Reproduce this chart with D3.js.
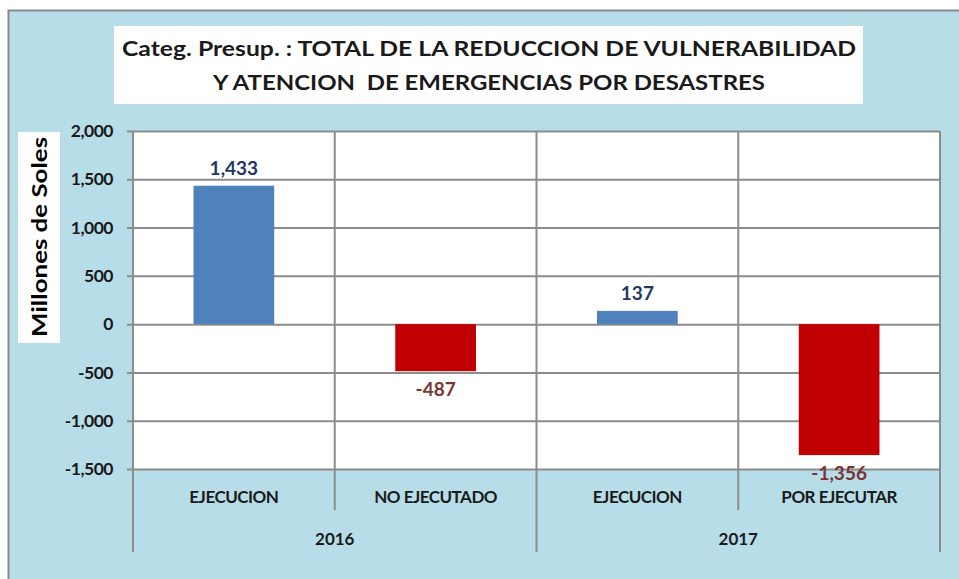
<!DOCTYPE html>
<html>
<head>
<meta charset="utf-8">
<script src="https://cdn.jsdelivr.net/npm/d3@7"></script>
<style>
  body { margin: 0; background: #fff; }
  svg { display: block; }
  text { font-family: Lato, "Open Sans", sans-serif; }
</style>
</head>
<body>
<svg id="chart" width="959" height="579"></svg>
<script>
// datos del grafico
var categories = ["EJECUCION", "NO EJECUTADO", "EJECUCION", "POR EJECUTAR"];
var years = ["2016", "2017"];
var yearOfCategory = [0, 0, 1, 1];
var values = [1433, -487, 137, -1356];
var yTicks = [-1500, -1000, -500, 0, 500, 1000, 1500, 2000];
var titleLines = ["Categ. Presup. : TOTAL DE LA REDUCCION DE VULNERABILIDAD",
                  "Y ATENCION  DE EMERGENCIAS POR DESASTRES"];
var yTitle = "Millones de Soles";

var width = 959;
var height = 579;
var plotLeft = 133, plotRight = 940, plotTop = 131, plotBottom = 469;
var gridColor = "#8c8c8c";

var svg = d3.select("#chart");
// guion simple como en Excel
var fmt = d3.formatLocale({decimal: ".", thousands: ",", grouping: [3], currency: ["", ""], minus: "-"}).format(",");

// fondo
svg.append("rect")
    .attr("x", 0).attr("y", 0)
    .attr("width", width).attr("height", height)
    .attr("fill", "#ffffff");
svg.append("rect")
    .attr("x", 8.5).attr("y", 10.5)
    .attr("width", width + 10).attr("height", height + 10)
    .attr("fill", "#b7dde8")
    .attr("stroke", "#8a8a8a")
    .attr("stroke-width", 2);

// titulo
svg.append("rect")
    .attr("x", 114).attr("y", 26)
    .attr("width", 749).attr("height", 78)
    .attr("fill", "#ffffff");
var titleWidths = [734, 552];
var titleY = [56, 90];
titleLines.forEach(function(line, i) {
    svg.append("text")
        .text(line)
        .attr("x", 489)
        .attr("y", titleY[i])
        .attr("text-anchor", "middle")
        .attr("font-size", 20)
        .attr("font-weight", "bold")
        .attr("fill", "#1a1a1a")
        .attr("xml:space", "preserve")
        .attr("textLength", titleWidths[i])
        .attr("lengthAdjust", "spacingAndGlyphs");
});

// escalas
var x = d3.scaleBand()
    .domain(d3.range(categories.length))
    .range([plotLeft, plotRight])
    .padding(0);
var y = d3.scaleLinear()
    .domain([yTicks[0], yTicks[yTicks.length - 1]])
    .range([plotBottom, plotTop]);

// area de trazado
svg.append("rect")
    .attr("x", plotLeft).attr("y", plotTop)
    .attr("width", plotRight - plotLeft).attr("height", plotBottom - plotTop)
    .attr("fill", "#ffffff");

// eje y con grilla
var yAxis = svg.append("g")
    .attr("transform", "translate(" + plotLeft + ",0)")
    .call(d3.axisLeft(y)
        .tickValues(yTicks)
        .tickFormat(fmt)
        .tickSizeInner(-(plotRight - plotLeft))
        .tickSizeOuter(0)
        .tickPadding(20));
yAxis.select(".domain").remove();
yAxis.selectAll(".tick line")
    .attr("x1", -6)
    .attr("stroke", gridColor)
    .attr("stroke-width", 2);
yAxis.selectAll(".tick text")
    .attr("x", -20)
    .attr("font-size", 17.5)
    .attr("font-weight", "bold")
    .attr("letter-spacing", -0.5)
    .attr("fill", "#1a1a1a");

// separadores verticales
var boundaries = d3.range(categories.length + 1);
svg.selectAll(".sep")
    .data(boundaries)
    .enter().append("line")
    .attr("class", "sep")
    .attr("x1", function(d) { return d < categories.length ? x(d) : plotRight; })
    .attr("x2", function(d) { return d < categories.length ? x(d) : plotRight; })
    .attr("y1", plotTop)
    .attr("y2", function(d) {
        var groupEdge = d === 0 || d === categories.length ||
            yearOfCategory[d] !== yearOfCategory[d - 1];
        return groupEdge ? 552 : 510;
    })
    .attr("stroke", gridColor)
    .attr("stroke-width", 2);

// barras
var barWidth = x.bandwidth() * 0.4;
svg.selectAll(".bar")
    .data(values)
    .enter().append("rect")
    .attr("class", "bar")
    .attr("x", function(d, i) { return x(i) + (x.bandwidth() - barWidth) / 2; })
    .attr("y", function(d) { return y(Math.max(0, d)); })
    .attr("width", barWidth)
    .attr("height", function(d) { return Math.abs(y(d) - y(0)); })
    .attr("fill", function(d) { return d >= 0 ? "#4f81bd" : "#c00000"; });

// etiquetas de datos
svg.selectAll(".lbl")
    .data(values)
    .enter().append("text")
    .attr("class", "lbl")
    .text(function(d) { return fmt(d); })
    .attr("x", function(d, i) { return x(i) + x.bandwidth() / 2; })
    .attr("y", function(d) { return d >= 0 ? y(d) - 11 : y(d) + 25; })
    .attr("text-anchor", "middle")
    .attr("font-size", 19)
    .attr("font-weight", "bold")
    .attr("fill", function(d) { return d >= 0 ? "#1f3864" : "#7a3535"; });

// etiquetas de categoria
svg.selectAll(".cat")
    .data(categories)
    .enter().append("text")
    .attr("class", "cat")
    .text(function(d) { return d; })
    .attr("x", function(d, i) { return x(i) + x.bandwidth() / 2; })
    .attr("y", 503)
    .attr("text-anchor", "middle")
    .attr("font-size", 17)
    .attr("font-weight", "bold")
    .attr("letter-spacing", -0.5)
    .attr("fill", "#1a1a1a");

// etiquetas de año
svg.selectAll(".year")
    .data(years)
    .enter().append("text")
    .attr("class", "year")
    .text(function(d) { return d; })
    .attr("x", function(d, yi) {
        var idx = d3.range(categories.length).filter(function(i) { return yearOfCategory[i] === yi; });
        return (x(idx[0]) + x(idx[idx.length - 1]) + x.bandwidth()) / 2;
    })
    .attr("y", 545)
    .attr("text-anchor", "middle")
    .attr("font-size", 17)
    .attr("font-weight", "bold")
    .attr("fill", "#1a1a1a");

// titulo del eje y
svg.append("rect")
    .attr("x", 18).attr("y", 132)
    .attr("width", 42).attr("height", 211)
    .attr("fill", "#ffffff");
svg.append("text")
    .text(yTitle)
    .attr("transform", "translate(47,237) rotate(-90)")
    .attr("text-anchor", "middle")
    .attr("font-size", 20)
    .attr("font-weight", "bold")
    .attr("fill", "#000000")
    .attr("textLength", 200)
    .attr("lengthAdjust", "spacingAndGlyphs");
</script>
</body>
</html>
